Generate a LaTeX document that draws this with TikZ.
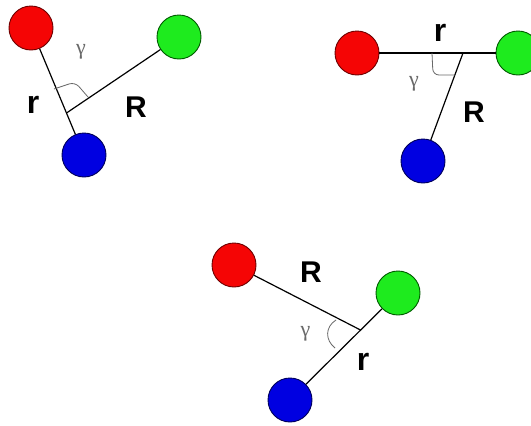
\documentclass[tikz,border=0pt]{standalone}
\usepackage{fontspec}
\newfontfamily\labelfont{Liberation Sans}
\newfontfamily\anglefont{Liberation Serif}
\definecolor{atomred}{RGB}{245,5,5}
\definecolor{atomredline}{RGB}{110,0,0}
\definecolor{atomgreen}{RGB}{30,235,30}
\definecolor{atomgreenline}{RGB}{0,90,0}
\definecolor{atomblue}{RGB}{0,0,225}
\definecolor{atombluelne}{RGB}{0,0,90}
\definecolor{markgray}{RGB}{105,105,105}

\begin{document}
\begin{tikzpicture}[x=1pt, y=-1pt,
    atom/.style={circle, line width=0.9pt, minimum size=44pt, inner sep=0pt},
    redatom/.style={atom, fill=atomred, draw=atomredline},
    greenatom/.style={atom, fill=atomgreen, draw=atomgreenline},
    blueatom/.style={atom, fill=atomblue, draw=atombluelne},
    bond/.style={line width=1.2pt},
    anglemark/.style={draw=markgray, line width=0.8pt, rounded corners=6pt},
    gammalabel/.style={text=markgray, inner sep=0pt, font=\anglefont\fontsize{22}{22}\selectfont},
    shortlabel/.style={anchor=base, inner sep=0pt, font=\labelfont\bfseries\fontsize{32}{32}\selectfont},
    longlabel/.style={anchor=base, inner sep=0pt, font=\labelfont\bfseries\fontsize{30}{30}\selectfont}
  ]
  \useasboundingbox[fill=white] (0,0) rectangle (531,426);

  % top left
  \node[redatom]   (red1)   at (31,28)  {};
  \node[greenatom] (green1) at (179,37) {};
  \node[blueatom]  (blue1)  at (84,155) {};
  \coordinate (mid1) at (66.5,113);
  \draw[bond] (red1) -- (blue1);
  \draw[bond] (mid1) -- (green1);
  \draw[anglemark] (54,89) -- (75,82) -- (88,97);
  \node[gammalabel] (g1) at (81,52)  {γ};
  \node[shortlabel] (r1) at (33,113) {r};
  \node[longlabel]  (R1) at (136,117) {R};

  % top right
  \node[redatom]   (red2)   at (357,53) {};
  \node[greenatom] (green2) at (518,53) {};
  \node[blueatom]  (blue2)  at (423,161) {};
  \coordinate (mid2) at (463,53);
  \draw[bond] (red2) -- (green2);
  \draw[bond] (mid2) -- (blue2);
  \draw[anglemark] (432,53) -- (433,75) -- (455,75);
  \node[gammalabel] (g2) at (414,84)  {γ};
  \node[shortlabel] (r2) at (440,41)  {r};
  \node[longlabel]  (R2) at (474,122) {R};

  % bottom
  \node[redatom]   (red3)   at (234,265) {};
  \node[greenatom] (green3) at (398,293) {};
  \node[blueatom]  (blue3)  at (290,400) {};
  \coordinate (mid3) at (360.5,330);
  \draw[bond] (blue3) -- (green3);
  \draw[bond] (red3) -- (mid3);
  \draw[draw=markgray, line width=0.8pt] (336,320) .. controls (325,327) and (325,340) .. (335,348);
  \node[gammalabel] (g3) at (305.5,334) {γ};
  \node[shortlabel] (r3) at (363,370) {r};
  \node[longlabel]  (R3) at (311,282) {R};
\end{tikzpicture}
\end{document}
